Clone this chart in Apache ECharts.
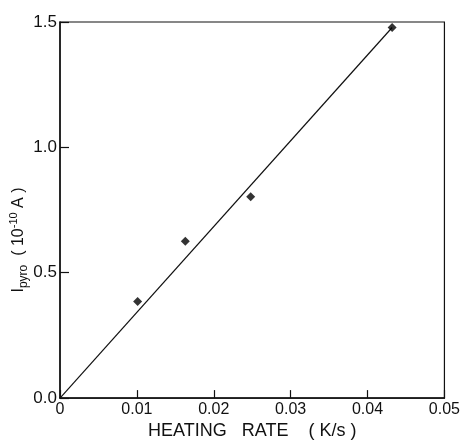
<!DOCTYPE html>
<html>
<head>
<meta charset="utf-8">
<script src="https://cdn.jsdelivr.net/npm/echarts@6/dist/echarts.min.js"></script>
<style>
  html, body { margin: 0; padding: 0; background: #fff; }
  #chart { width: 463px; height: 445px; }
</style>
</head>
<body>
<div id="chart"></div>
<script>
// Measured pyroelectric current versus heating rate
const heatingRate = [0.0101, 0.0163, 0.0248, 0.0432];
const pyroCurrent = [0.385, 0.626, 0.803, 1.478];

// Straight-line fit through the origin
const fitX = [0, 0.0432];
const fitY = [0, 1.478];

// Tick labels
const xTickLabels = ['0', '0.01', '0.02', '0.03', '0.04', '0.05'];
const yTickLabels = ['0.0', '0.5', '1.0', '1.5'];

const FONT = 'Liberation Sans';
const chart = echarts.init(document.getElementById('chart'), null, { renderer: 'canvas' });

chart.setOption({
  backgroundColor: '#ffffff',
  animation: false,
  grid: {
    left: 60, top: 22, right: 15, bottom: 38,
    show: true, borderColor: '#111', borderWidth: 1.2, backgroundColor: 'transparent'
  },
  xAxis: {
    type: 'value', min: 0, max: 0.05, interval: 0.01,
    axisLine: { show: true, onZero: false, lineStyle: { color: '#111', width: 1.5 } },
    axisTick: { show: true, inside: true, length: 8, lineStyle: { color: '#111', width: 1.2 } },
    splitLine: { show: false },
    axisLabel: {
      margin: 3, color: '#111', fontFamily: FONT, fontSize: 16,
      formatter: (v) => xTickLabels[Math.round(v / 0.01)]
    },
    name: 'HEATING   RATE    ( K/s )',
    nameLocation: 'middle', nameGap: 18,
    nameTextStyle: { color: '#111', fontFamily: FONT, fontSize: 18 }
  },
  yAxis: {
    type: 'value', min: 0, max: 1.5, interval: 0.5,
    axisLine: { show: true, onZero: false, lineStyle: { color: '#111', width: 1.5 } },
    axisTick: { show: true, inside: true, length: 9, lineStyle: { color: '#111', width: 1.2 } },
    splitLine: { show: false },
    axisLabel: {
      margin: 3, color: '#111', fontFamily: FONT, fontSize: 17,
      formatter: (v) => yTickLabels[Math.round(v / 0.5)]
    }
  },
  graphic: [{
    type: 'text',
    x: 19, y: 240,
    rotation: Math.PI / 2,
    style: {
      text: '{m|I}{sub|pyro}{m|  ( 10}{sup|-10}{m| A )}',
      textAlign: 'center',
      textVerticalAlign: 'middle',
      fill: '#111',
      rich: {
        m: { fontFamily: FONT, fontSize: 16, lineHeight: 22, verticalAlign: 'middle', fill: '#111' },
        sub: { fontFamily: FONT, fontSize: 12, lineHeight: 12, verticalAlign: 'bottom', fill: '#111' },
        sup: { fontFamily: FONT, fontSize: 11, lineHeight: 11, verticalAlign: 'top', fill: '#111' }
      }
    }
  }],
  series: [
    {
      type: 'line',
      data: fitX.map((x, i) => [x, fitY[i]]),
      showSymbol: false,
      lineStyle: { color: '#111', width: 1.2 },
      z: 2
    },
    {
      type: 'scatter',
      data: heatingRate.map((x, i) => [x, pyroCurrent[i]]),
      symbol: 'diamond',
      symbolSize: 9,
      itemStyle: { color: '#000' },
      z: 3
    }
  ]
});
</script>
</body>
</html>
